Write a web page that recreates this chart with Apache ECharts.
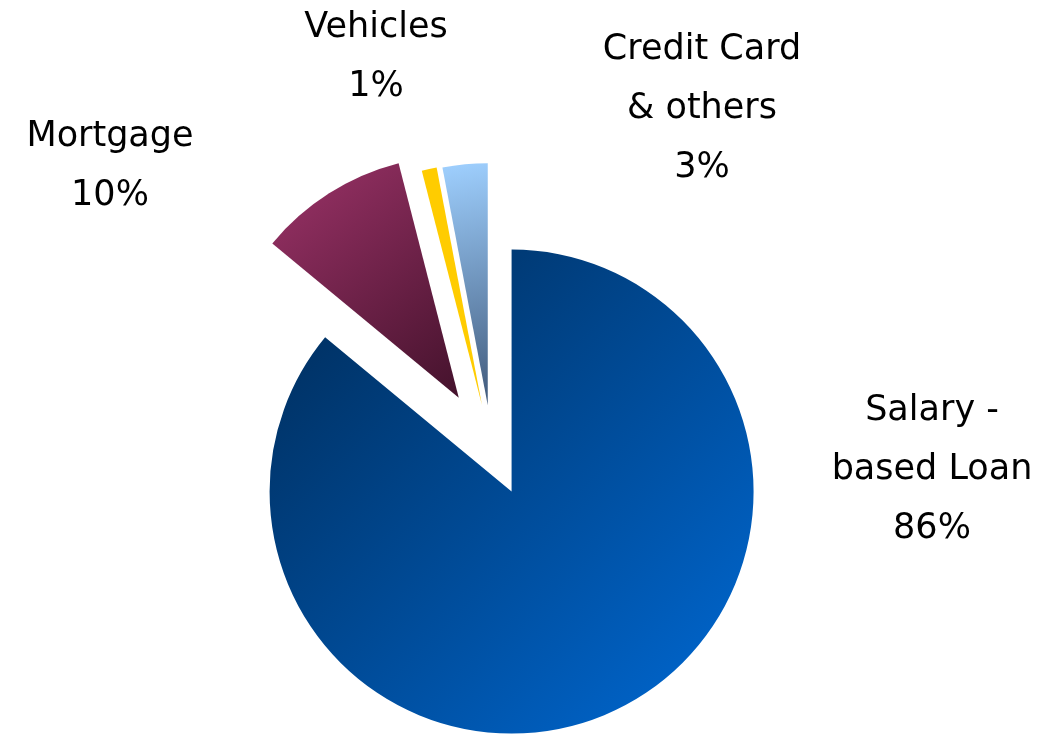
<!DOCTYPE html>
<html>
<head>
<meta charset="utf-8">
<style>
  html, body { margin: 0; padding: 0; background: #ffffff; }
  #chart { width: 1044px; height: 734px; }
</style>
<script src="https://cdn.jsdelivr.net/npm/echarts@6/dist/echarts.min.js"></script>
</head>
<body>
<div id="chart"></div>
<script>
// Loan portfolio breakdown (share of total, %)
const categories = ['Salary -\nbased Loan', 'Mortgage', 'Vehicles', 'Credit Card\n& others'];
const shares = [86, 10, 1, 3];

// How far each slice is pulled out from the centre (px)
const sliceOffsets = [46, 62, 46, 45];
// Where each slice's label block is centred (px)
const labelCenters = [[932, 470], [110, 166], [376, 57], [702, 109]];

const G = echarts.graphic.LinearGradient;
const sliceFills = [
  new G(0, 0, 1, 1, [{ offset: 0, color: '#002a55' }, { offset: 1, color: '#006ad6' }]),
  new G(0, 0, 1, 1, [{ offset: 0, color: '#9c3368' }, { offset: 1, color: '#44122c' }]),
  '#ffcc00',
  new G(0, 0, 1, 1, [{ offset: 0, color: '#9fd0ff' }, { offset: 1, color: '#40597a' }])
];

const chart = echarts.init(document.getElementById('chart'), null, { renderer: 'canvas' });

// One pie per slice so every slice can be pulled out by its own distance;
// the other slices in each pie are left invisible.
const series = categories.map((_, i) => ({
  type: 'pie',
  center: [492, 450],
  radius: 242,
  startAngle: 90,
  clockwise: true,
  silent: true,
  animation: false,
  selectedMode: 'multiple',
  selectedOffset: sliceOffsets[i],
  label: { show: false },
  labelLine: { show: false },
  data: categories.map((name, j) => ({
    name: name,
    value: shares[j],
    selected: j === i,
    itemStyle: { color: j === i ? sliceFills[j] : 'rgba(0,0,0,0)' }
  }))
}));

// Category name with its share underneath, placed beside each slice
const total = shares.reduce((a, b) => a + b, 0);
const labels = categories.map((name, j) => ({
  type: 'text',
  x: labelCenters[j][0],
  y: labelCenters[j][1],
  silent: true,
  style: {
    text: name + '\n' + Math.round(shares[j] / total * 100) + '%',
    fontFamily: 'DejaVu Sans',
    fontSize: 35,
    lineHeight: 59,
    fill: '#000000',
    align: 'center',
    verticalAlign: 'middle'
  }
}));

chart.setOption({
  backgroundColor: '#ffffff',
  series: series,
  graphic: labels
});
</script>
</body>
</html>
